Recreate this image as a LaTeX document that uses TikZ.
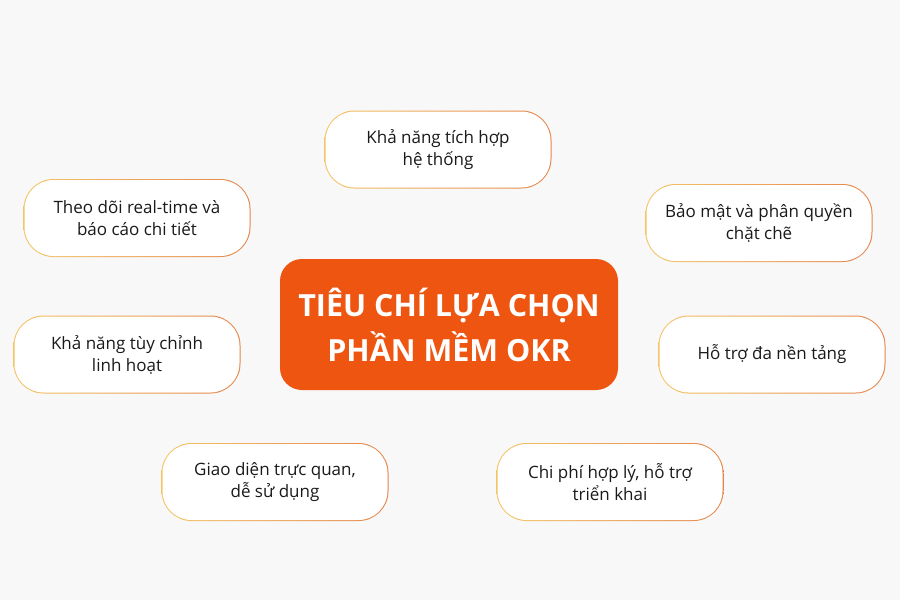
\documentclass[tikz,border=0pt]{standalone}
\usepackage{fontspec}
\setmainfont{Open Sans}
\definecolor{bg}{HTML}{F8F8F8}
\definecolor{ctr}{HTML}{EE5510}
\definecolor{bdl}{HTML}{F4C566}
\definecolor{bdr}{HTML}{E5844A}
\definecolor{txt}{HTML}{1A1A1A}
\begin{document}
\begin{tikzpicture}[x=1pt,y=-1pt,
 ring/.style={rectangle, rounded corners=30pt, minimum width=227pt, minimum height=78pt, left color=bdl, right color=bdr, draw=none, inner sep=0pt},
 card/.style={rectangle, rounded corners=29pt, minimum width=225pt, minimum height=76pt, fill=white, inner sep=0pt, align=center, font=\fontsize{17}{22}\selectfont, text=txt},
 hub/.style={rectangle, rounded corners=22pt, minimum width=338pt, minimum height=131pt, fill=ctr, text=white, align=center, inner sep=0pt, font=\bfseries\fontsize{30.5}{45}\selectfont}]
\path[fill=bg] (0,0) rectangle (900,600);
\useasboundingbox (0,0) rectangle (900,600);

\node[hub] (hub) at (449,324.5) {TIÊU CHÍ LỰA CHỌN\\PHẦN MỀM OKR};

\node[ring] (r1) at (438,149.5) {};
\node[card] (c1) at (r1.center) {Khả năng tích hợp\\hệ thống};

\node[ring] (r2) at (137,218) {};
\node[card] (c2) at (r2.center) {Theo dõi real-time và\\báo cáo chi tiết};

\node[ring] (r3) at (759,223) {};
\node[card] (c3) at (r3.center) {Bảo mật và phân quyền\\chặt chẽ};

\node[ring] (r4) at (127,354.5) {};
\node[card] (c4) at (r4.center) {Khả năng tùy chỉnh\\linh hoạt};

\node[ring] (r5) at (772,354.5) {};
\node[card] (c5) at (r5.center) {Hỗ trợ đa nền tảng};

\node[ring] (r6) at (275,482) {};
\node[card] (c6) at (r6.center) {Giao diện trực quan,\\dễ sử dụng};

\node[ring] (r7) at (610,482) {};
\node[card] (c7) at (r7.center) {Chi phí hợp lý, hỗ trợ\\triển khai};
\end{tikzpicture}
\end{document}
